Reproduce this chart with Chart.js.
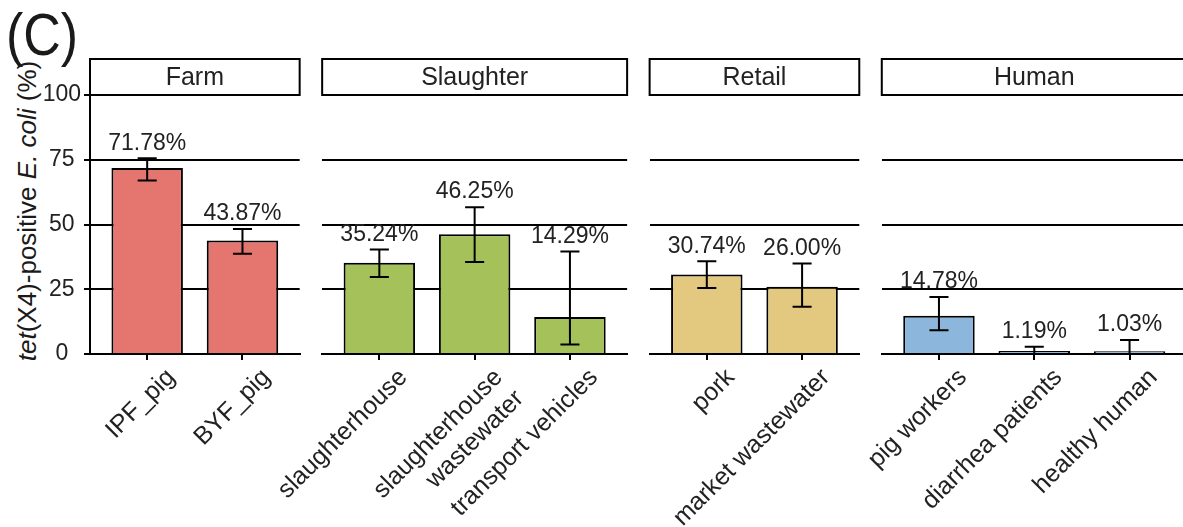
<!DOCTYPE html>
<html>
<head>
<meta charset="utf-8">
<script src="https://cdn.jsdelivr.net/npm/chart.js@4/dist/chart.umd.min.js"></script>
<style>
  html, body { margin: 0; padding: 0; background: #fff; overflow: hidden; }
  #wrap { position: relative; width: 1183px; height: 527px; overflow: hidden; }
  #wrap canvas { position: absolute; left: 0; top: 0; }
  #tag { position: absolute; left: 6px; top: 4px; font: 52px "Liberation Sans", Arial, sans-serif; line-height: 52px;
         color: #1a1a1a; transform: scaleY(1.15); transform-origin: top left; }
  #ytitle { position: absolute; left: 27px; top: 211px; white-space: nowrap; font: 26px "Liberation Sans", Arial, sans-serif;
            color: #1a1a1a; transform: translate(-50%, -50%) rotate(-90deg); }
</style>
</head>
<body>
<div id="wrap">
  <div id="tag">(C)</div>
  <div id="ytitle"><i>tet</i>(X4)-positive <i>E. coli</i> (%)</div>
</div>
<script>
// values (percent), error bars as lower / upper ends
var panelNames = ['Farm', 'Slaughter', 'Retail', 'Human'];

var farmLabels = ['IPF_pig', 'BYF_pig'];
var farmValues = [71.78, 43.87];
var farmLower = [67.0, 38.7];
var farmUpper = [75.6, 48.3];

var slaughterLabels = ['slaughterhouse', ['slaughterhouse', 'wastewater'], 'transport vehicles'];
var slaughterValues = [35.24, 46.25, 14.29];
var slaughterLower = [29.7, 35.5, 3.7];
var slaughterUpper = [40.3, 56.7, 39.6];

var retailLabels = ['pork', 'market wastewater'];
var retailValues = [30.74, 26.00];
var retailLower = [25.5, 18.2];
var retailUpper = [35.8, 34.9];

var humanLabels = ['pig workers', 'diarrhea patients', 'healthy human'];
var humanValues = [14.78, 1.19, 1.03];
var humanLower = [9.2, 0, 0];
var humanUpper = [22.0, 2.8, 5.4];

var yTicks = [0, 25, 50, 75, 100];
var barColors = ['#E4766F', '#A5C25A', '#E3C980', '#8CB6DB'];

Chart.defaults.font.family = '"Liberation Sans", Arial, sans-serif';
Chart.defaults.color = '#222';

var W = 1220, H = 527;
var plotTop = 95, plotBottom = 354;
var unit = 95.3, gap = 22.5, startX = 90;

var extras = {
  id: 'extras',
  afterDatasetsDraw: function(chart) {
    var ctx = chart.ctx, a = chart.chartArea, xs = chart.scales.x, ys = chart.scales.y;
    var p = chart.options.plugins.extras;
    var cap = xs.getPixelForValue(0.1) - xs.getPixelForValue(0);
    ctx.save();
    ctx.strokeStyle = '#000';
    ctx.lineWidth = 2;
    p.values.forEach(function(v, k) {
      var px = xs.getPixelForValue(k);
      var top = ys.getPixelForValue(p.upper[k]);
      var bot = ys.getPixelForValue(p.lower[k]);
      ctx.beginPath();
      ctx.moveTo(px, top); ctx.lineTo(px, bot);
      ctx.moveTo(px - cap, top); ctx.lineTo(px + cap, top);
      ctx.moveTo(px - cap, bot); ctx.lineTo(px + cap, bot);
      ctx.stroke();
      ctx.fillStyle = '#222';
      ctx.font = '23px "Liberation Sans", Arial, sans-serif';
      ctx.textAlign = 'center';
      ctx.textBaseline = 'middle';
      ctx.fillText(v.toFixed(2) + '%', px, top - 15);
    });
    // facet strip
    ctx.fillStyle = '#fff';
    ctx.fillRect(a.left, a.top - 36, a.right - a.left, 36);
    ctx.strokeRect(a.left, a.top - 36, a.right - a.left, 36);
    ctx.fillStyle = '#222';
    ctx.font = '25px "Liberation Sans", Arial, sans-serif';
    ctx.textAlign = 'center';
    ctx.textBaseline = 'middle';
    ctx.fillText(p.name, (a.left + a.right) / 2, a.top - 17);
    ctx.restore();
  }
};

function makePanel(i, left, labels, values, lower, upper) {
  var n = labels.length;
  var right = left + (n + 0.2) * unit;
  var canvas = document.createElement('canvas');
  canvas.width = W; canvas.height = H;
  document.getElementById('wrap').appendChild(canvas);
  new Chart(canvas, {
    type: 'bar',
    data: {
      datasets: [{
        data: values.map(function(v, k) { return { x: k, y: v }; }),
        backgroundColor: barColors[i],
        borderColor: '#000',
        borderWidth: 2,
        categoryPercentage: 1,
        barPercentage: 0.75
      }]
    },
    options: {
      responsive: false,
      animation: false,
      layout: { padding: { top: plotTop, left: 0, right: W - right, bottom: 0 } },
      plugins: {
        legend: { display: false },
        tooltip: { enabled: false },
        extras: { name: panelNames[i], values: values, lower: lower, upper: upper }
      },
      scales: {
        x: {
          type: 'linear',
          offset: false,
          min: -0.6,
          max: n - 0.4,
          afterBuildTicks: function(s) { s.ticks = labels.map(function(l, k) { return { value: k }; }); },
          afterFit: function(s) { s.height = H - plotBottom; s.paddingLeft = 0; s.paddingRight = 0; },
          ticks: {
            autoSkip: false, minRotation: 45, maxRotation: 45, padding: 3, labelOffset: 24,
            font: { size: 25 }, color: '#222',
            callback: function(v) { return labels[v]; }
          },
          grid: { offset: false, drawOnChartArea: false, color: '#000', lineWidth: 2, tickLength: 6 },
          border: { color: '#000', width: 2 }
        },
        y: {
          min: 0,
          max: 100,
          afterBuildTicks: function(s) { s.ticks = yTicks.map(function(v) { return { value: v }; }); },
          afterFit: function(s) { s.width = left; },
          ticks: { display: i === 0, font: { size: 23 }, color: '#222', padding: 3, crossAlign: 'center' },
          grid: { color: '#000', lineWidth: 2, drawTicks: i === 0, tickLength: 6 },
          border: { display: i === 0, color: '#000', width: 2 }
        }
      }
    },
    plugins: [extras]
  });
  return right + gap;
}

var x = startX;
x = makePanel(0, x, farmLabels, farmValues, farmLower, farmUpper);
x = makePanel(1, x, slaughterLabels, slaughterValues, slaughterLower, slaughterUpper);
x = makePanel(2, x, retailLabels, retailValues, retailLower, retailUpper);
x = makePanel(3, x, humanLabels, humanValues, humanLower, humanUpper);
</script>
</body>
</html>
